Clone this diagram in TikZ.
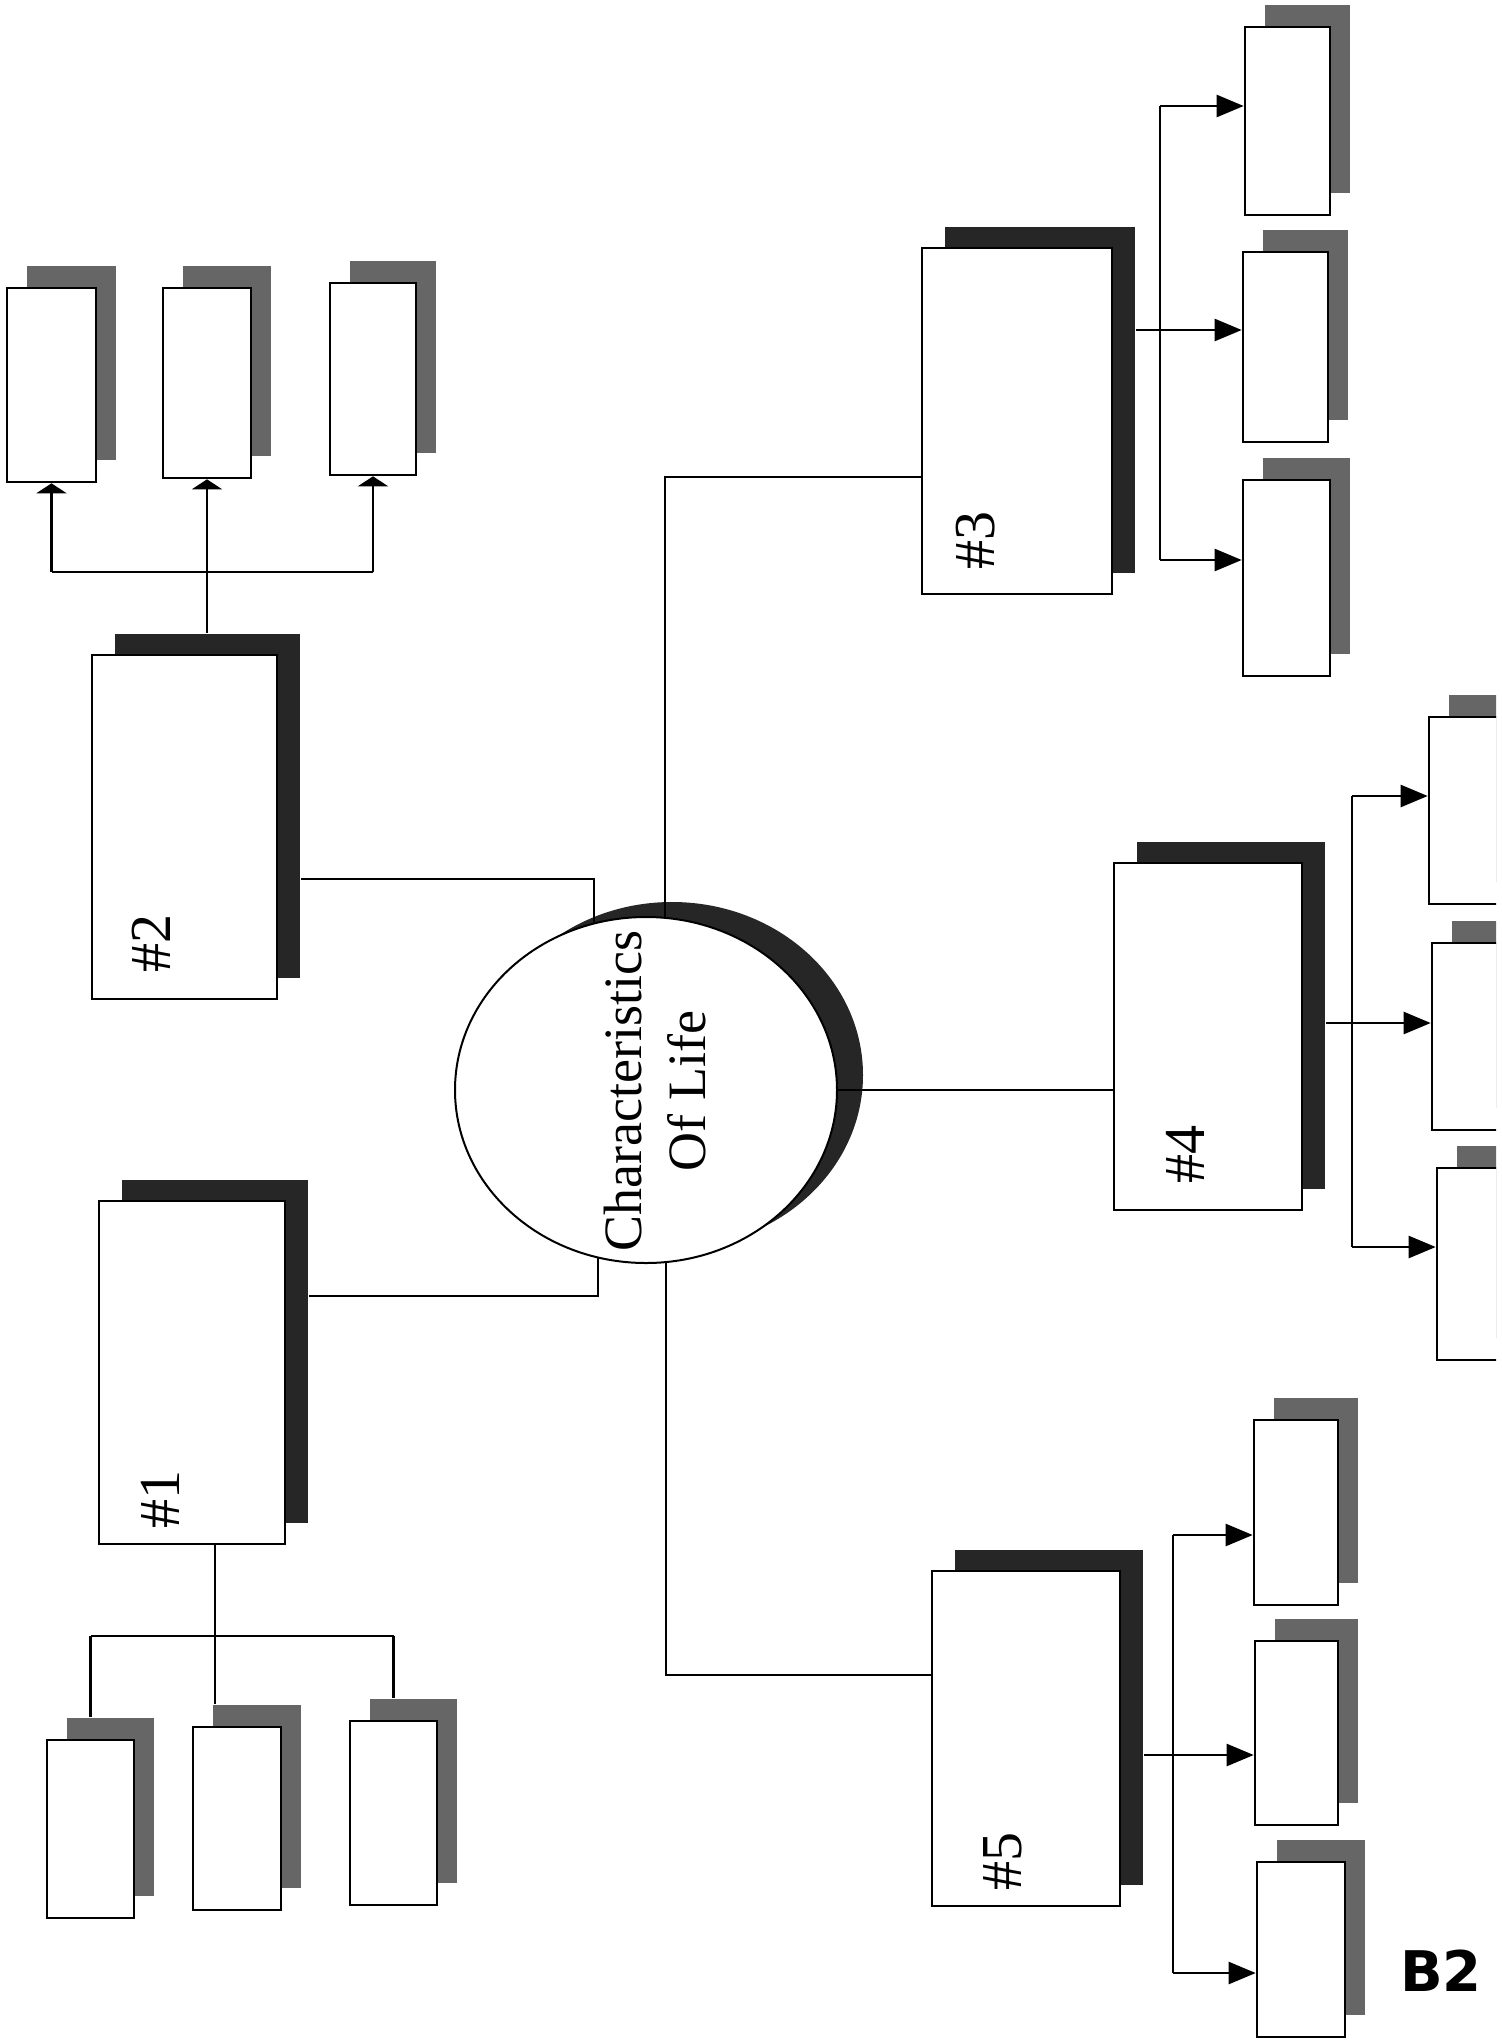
\documentclass[tikz,border=0pt]{standalone}
\usepackage{fontspec}
\setmainfont{Liberation Serif}
\newfontfamily\handfont{DejaVu Sans}
\usetikzlibrary{shapes.geometric,shadows,arrows.meta}
\begin{document}
\begin{tikzpicture}[x=0.5pt,y=-0.5pt,
  bigbox/.style={draw, line width=1.4pt, fill=white, inner sep=0pt,
    drop shadow={shadow xshift=11.5pt, shadow yshift=10.5pt, opacity=1, fill=black!85}},
  smallbox/.style={draw, line width=1.3pt, fill=white, inner sep=0pt,
    drop shadow={shadow xshift=10pt, shadow yshift=11pt, opacity=1, fill=black!60}},
  lifeshape/.style={ellipse, draw, line width=1pt, fill=white, inner sep=0pt,
    minimum width=191pt, minimum height=173pt,
    drop shadow={shadow xshift=13pt, shadow yshift=7.5pt, opacity=1, fill=black!85}},
  conn/.style={line width=1.1pt},
  arr/.style={line width=1.2pt, -{Triangle[length=13.5pt,width=11pt]}},
  uparr/.style={line width=1.1pt, -{Triangle[length=5pt,width=15pt]}},
  numlabel/.style={rotate=90, inner sep=0pt, font=\fontsize{29pt}{29pt}\selectfont},
  lifelabel/.style={rotate=90, inner sep=0pt, align=center,
    font=\fontsize{27pt}{32pt}\selectfont},
  marklabel/.style={inner sep=0pt, font=\handfont\bfseries\fontsize{28pt}{28pt}\selectfont}
]
\useasboundingbox (0,0) rectangle (1502,2040);
\fill[white] (0,0) rectangle (1502,2040);

% central ellipse
\node[lifeshape] (life) at (646,1090) {};
\node[lifelabel] (lifetext) at (655,1091) {Characteristics\\Of Life};

% main boxes
\node[bigbox, minimum width=93pt, minimum height=171.5pt] (b1) at (192,1372.5) {};
\node[bigbox, minimum width=92.5pt, minimum height=172pt] (b2) at (184.5,827) {};
\node[bigbox, minimum width=95pt, minimum height=173pt] (b3) at (1017,421) {};
\node[bigbox, minimum width=94pt, minimum height=173.5pt] (b4) at (1208,1036.5) {};
\node[bigbox, minimum width=94pt, minimum height=167.5pt] (b5) at (1026,1738.5) {};

\node[numlabel] (l1) at (160,1499) {\#1};
\node[numlabel] (l2) at (151,943) {\#2};
\node[numlabel] (l3) at (976,540) {\#3};
\node[numlabel] (l4) at (1185,1154) {\#4};
\node[numlabel] (l5) at (1003,1861) {\#5};

% children of #2
\node[smallbox, minimum width=44.5pt, minimum height=97pt] (c2a) at (51.5,385) {};
\node[smallbox, minimum width=44pt, minimum height=95pt] (c2b) at (207,383) {};
\node[smallbox, minimum width=43pt, minimum height=96pt] (c2c) at (373,379) {};
% children of #1
\node[smallbox, minimum width=43.5pt, minimum height=89pt] (c1a) at (90.5,1829) {};
\node[smallbox, minimum width=44pt, minimum height=91.5pt] (c1b) at (237,1818.5) {};
\node[smallbox, minimum width=43.5pt, minimum height=92pt] (c1c) at (393.5,1813) {};
% children of #3
\node[smallbox, minimum width=42.5pt, minimum height=94pt] (c31) at (1287.5,121) {};
\node[smallbox, minimum width=42.5pt, minimum height=95pt] (c32) at (1285.5,347) {};
\node[smallbox, minimum width=43.5pt, minimum height=98pt] (c33) at (1286.5,578) {};
% children of #4 (cut by the page edge)
\begin{scope}
\clip (0,0) rectangle (1496,2040);
\node[smallbox, minimum width=43pt, minimum height=93.5pt] (c41) at (1472,810.5) {};
\node[smallbox, minimum width=43pt, minimum height=93.5pt] (c42) at (1475,1036.5) {};
\node[smallbox, minimum width=43pt, minimum height=96pt] (c43) at (1480,1264) {};
\end{scope}
% children of #5
\node[smallbox, minimum width=42pt, minimum height=92.5pt] (c51) at (1296,1512.5) {};
\node[smallbox, minimum width=41.5pt, minimum height=92pt] (c52) at (1296.5,1733) {};
\node[smallbox, minimum width=44pt, minimum height=87.5pt] (c53) at (1301,1949.5) {};

% helper coordinates
\coordinate (b1e) at ([xshift=11.5pt]b1.east);
\coordinate (b2e) at ([xshift=11.5pt]b2.east);
\coordinate (b3e) at ([xshift=11.5pt]b3.east);
\coordinate (b4e) at ([xshift=11.5pt]b4.east);
\coordinate (b5e) at ([xshift=11.5pt]b5.east);
\coordinate (b2t) at ([yshift=10.5pt]b2.north);
\coordinate (c1at) at ([yshift=11pt]c1a.north);
\coordinate (c1bt) at ([yshift=11pt]c1b.north);
\coordinate (c1ct) at ([yshift=11pt]c1c.north);
\coordinate (j1) at (598,1296);
\coordinate (j2) at (594,879);
\coordinate (j3) at (665,477);
\coordinate (j5) at (666,1675);
\coordinate (bar1) at (215,1636);
\coordinate (bar2) at (207,572);
\coordinate (t3) at (1160,106);
\coordinate (m3) at (1160,330);
\coordinate (u3) at (1160,560);
\coordinate (t4) at (1352,796);
\coordinate (m4) at (1352,1023);
\coordinate (u4) at (1352,1247);
\coordinate (t5) at (1173,1535);
\coordinate (m5) at (1173,1755);
\coordinate (u5) at (1173,1973);

% connectors from the centre
\draw[conn] (j2 |- life.107) -- (j2) -- (b2e |- j2);
\draw[conn] (j1 |- life.254) -- (j1) -- (b1e |- j1);
\draw[conn] (j3 |- life.84) -- (j3) -- (j3 -| b3.west);
\draw[conn] (life.east) -- (life.east -| b4.west);
\draw[conn] (j5 |- life.277) -- (j5) -- (j5 -| b5.west);

% #2 to its children
\draw[conn] (bar2) -- (bar2 |- b2t);
\draw[conn] (c2a.south |- bar2) -- (c2c.south |- bar2);
\draw[uparr] (c2a.south |- bar2) -- (c2a.south);
\draw[uparr] (c2b.south |- bar2) -- (c2b.south);
\draw[uparr] (c2c.south |- bar2) -- (c2c.south);

% #1 to its children
\draw[conn] (bar1 |- b1.south) -- (bar1 |- c1bt);
\draw[conn] (c1a.north |- bar1) -- (c1c.north |- bar1);
\draw[conn] (c1a.north |- bar1) -- (c1a.north |- c1at);
\draw[conn] (c1c.north |- bar1) -- (c1c.north |- c1ct);

% #3 to its children
\draw[conn] (t3) -- (u3);
\draw[arr] (t3) -- (t3 -| c31.west);
\draw[arr] (b3e |- m3) -- (m3 -| c32.west);
\draw[arr] (u3) -- (u3 -| c33.west);

% #4 to its children
\draw[conn] (t4) -- (u4);
\draw[arr] (t4) -- (t4 -| c41.west);
\draw[arr] (b4e |- m4) -- (m4 -| c42.west);
\draw[arr] (u4) -- (u4 -| c43.west);

% #5 to its children
\draw[conn] (t5) -- (u5);
\draw[arr] (t5) -- (t5 -| c51.west);
\draw[arr] (b5e |- m5) -- (m5 -| c52.west);
\draw[arr] (u5) -- (u5 -| c53.west);

\node[marklabel] (mark) at (1441,1971) {B2};
\end{tikzpicture}
\end{document}
